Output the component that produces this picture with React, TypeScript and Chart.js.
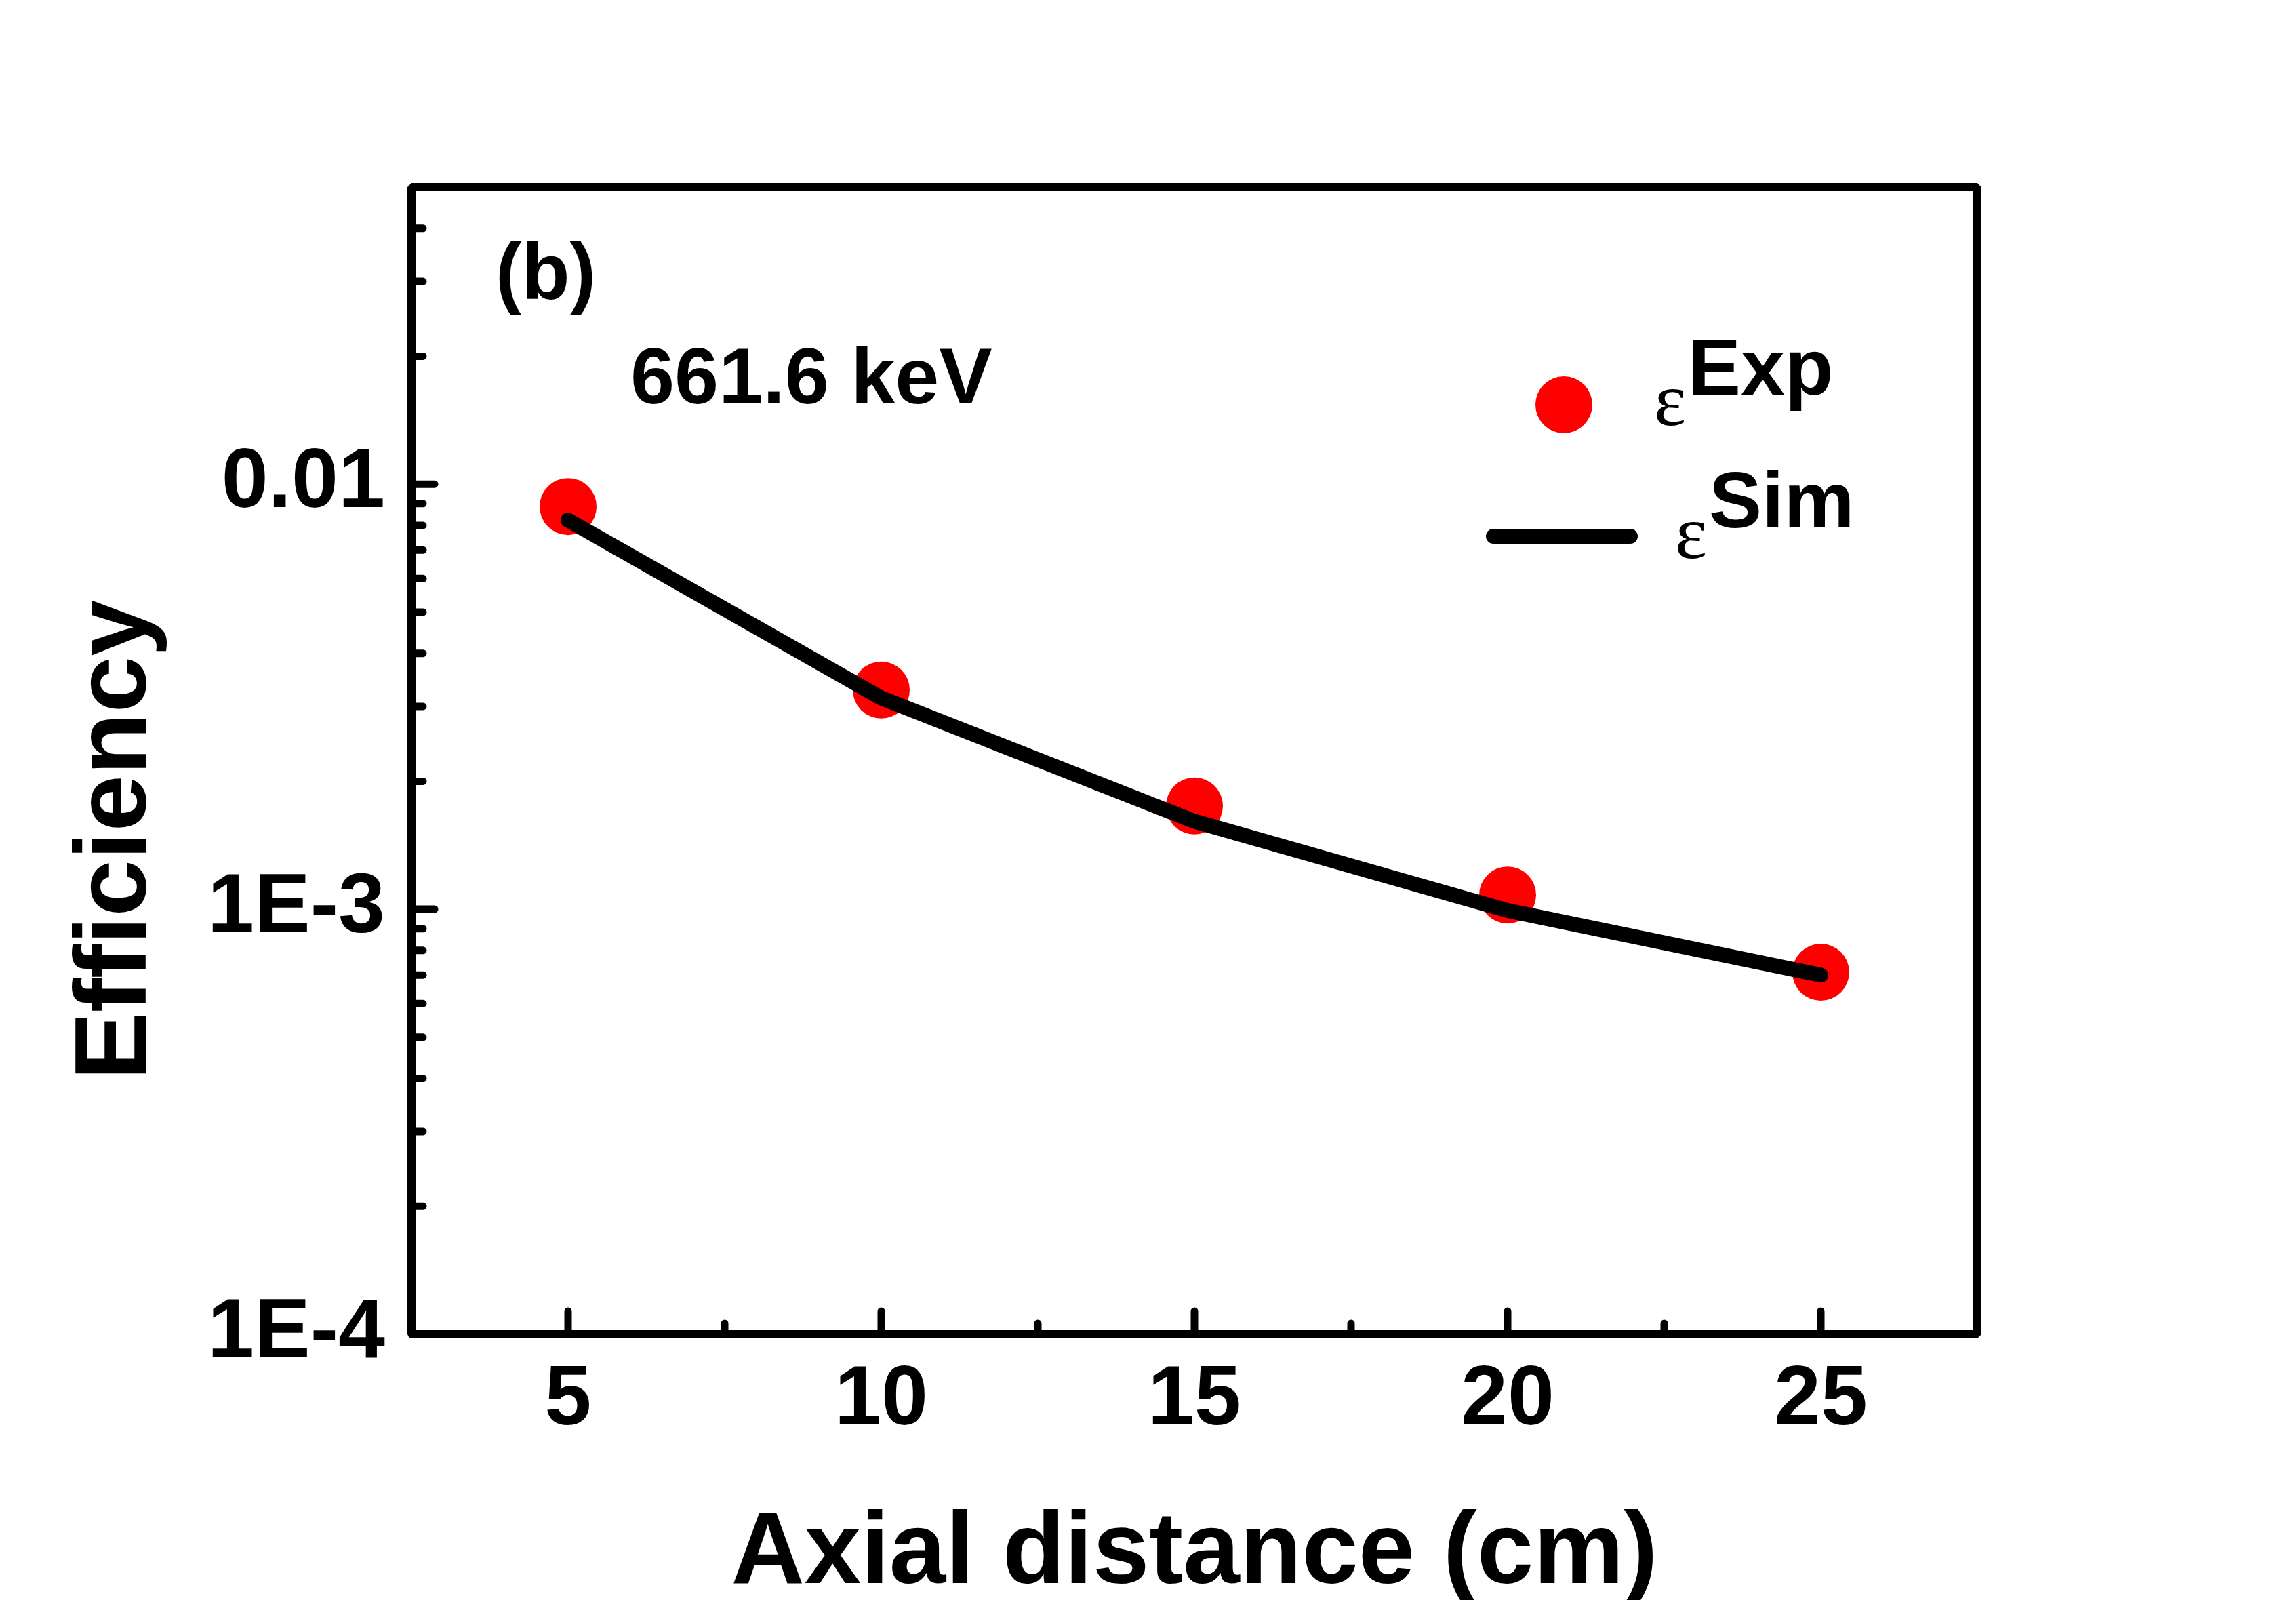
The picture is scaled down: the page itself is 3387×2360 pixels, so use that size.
import { useEffect, useRef } from 'react';
import { Chart, registerables } from 'chart.js';

Chart.register(...registerables);

// axial distance (cm)
const distances = [5, 10, 15, 20, 25];
// measured efficiency
const effExp = [0.00886, 0.00328, 0.00175, 0.00108, 0.000711];
// simulated efficiency
const effSim = [0.00823, 0.00314, 0.00161, 0.000993, 0.0007];

const xTickValues = [5, 10, 15, 20, 25];
const xMinorTicks = [7.5, 12.5, 17.5, 22.5];
const yTickValues = [1e-4, 1e-3, 1e-2];
const yTickLabels = ['1E-4', '1E-3', '0.01'];
const yMinorTicks = [
  2e-4, 3e-4, 4e-4, 5e-4, 6e-4, 7e-4, 8e-4, 9e-4,
  2e-3, 3e-3, 4e-3, 5e-3, 6e-3, 7e-3, 8e-3, 9e-3,
  0.02, 0.03, 0.04,
];

const SANS = "'Liberation Sans', Arial, sans-serif";
const SERIF = "'Liberation Serif', 'Times New Roman', serif";

// frame, inward ticks and all the loose text
const framePlugin = {
  id: 'frame',
  afterDraw(chart: any) {
    const { ctx, chartArea: a, scales } = chart;
    const xs = scales.x;
    const ys = scales.y;
    ctx.save();
    ctx.strokeStyle = '#000';
    ctx.fillStyle = '#000';

    const tick = (x1: number, y1: number, x2: number, y2: number) => {
      ctx.beginPath();
      ctx.moveTo(x1, y1);
      ctx.lineTo(x2, y2);
      ctx.stroke();
    };

    ctx.lineWidth = 11;
    ctx.lineCap = 'round';
    xTickValues.forEach((v) => {
      const px = xs.getPixelForValue(v);
      tick(px, a.bottom, px, a.bottom - 34);
    });
    xMinorTicks.forEach((v) => {
      const px = xs.getPixelForValue(v);
      tick(px, a.bottom, px, a.bottom - 16);
    });
    yTickValues.forEach((v) => {
      const py = ys.getPixelForValue(v);
      tick(a.left, py, a.left + 34, py);
    });
    yMinorTicks.forEach((v) => {
      const py = ys.getPixelForValue(v);
      tick(a.left, py, a.left + 17, py);
    });

    // box
    ctx.lineWidth = 12;
    ctx.lineCap = 'butt';
    ctx.lineJoin = 'bevel';
    ctx.strokeRect(a.left, a.top, a.right - a.left, a.bottom - a.top);

    // axis titles
    ctx.font = `bold 150px ${SANS}`;
    ctx.textAlign = 'center';
    ctx.textBaseline = 'alphabetic';
    ctx.fillText('Axial distance (cm)', (a.left + a.right) / 2, 2335);
    ctx.save();
    ctx.translate(215, 1239);
    ctx.rotate(-Math.PI / 2);
    ctx.fillText('Efficiency', 0, 0);
    ctx.restore();

    // annotations
    ctx.textAlign = 'left';
    ctx.font = `bold 116px ${SANS}`;
    ctx.fillText('(b)', 731, 441);
    ctx.font = `bold 117px ${SANS}`;
    ctx.fillText('661.6 keV', 930, 595);

    // legend
    ctx.fillStyle = '#FF0000';
    ctx.beginPath();
    ctx.arc(2307, 597, 42, 0, Math.PI * 2);
    ctx.fill();
    ctx.strokeStyle = '#000';
    ctx.lineWidth = 22;
    ctx.lineCap = 'round';
    tick(2203, 791, 2405, 791);

    ctx.fillStyle = '#000';
    ctx.font = `112px ${SERIF}`;
    ctx.fillText('ε', 2440, 627);
    ctx.fillText('ε', 2471, 823);
    ctx.font = `bold 117px ${SANS}`;
    ctx.fillText('Exp', 2490, 582);
    ctx.fillText('Sim', 2521, 778);

    ctx.restore();
  },
};

const EfficiencyChart = () => {
  const canvasRef = useRef<HTMLCanvasElement>(null);

  useEffect(() => {
    if (!canvasRef.current) return;

    const chart = new Chart(canvasRef.current, {
      type: 'scatter',
      data: {
        datasets: [
          {
            label: 'Sim',
            data: distances.map((d, i) => ({ x: d, y: effSim[i] })),
            showLine: true,
            borderColor: '#000',
            borderWidth: 22,
            borderCapStyle: 'round',
            borderJoinStyle: 'round',
            pointRadius: 0,
            order: 0,
          },
          {
            label: 'Exp',
            data: distances.map((d, i) => ({ x: d, y: effExp[i] })),
            showLine: false,
            pointRadius: 42,
            pointBackgroundColor: '#FF0000',
            pointBorderWidth: 0,
            order: 1,
          },
        ],
      },
      options: {
        responsive: true,
        maintainAspectRatio: false,
        animation: false,
        events: [],
        layout: {
          padding: { left: 0, top: 276, right: 470, bottom: 0 },
        },
        plugins: {
          legend: { display: false },
          tooltip: { enabled: false },
        },
        scales: {
          x: {
            type: 'linear',
            min: 2.5,
            max: 27.5,
            grid: { display: false, drawTicks: false },
            border: { display: false },
            ticks: {
              autoSkip: false,
              maxRotation: 0,
              padding: 24,
              color: '#000',
              font: { family: SANS, size: 124, weight: 'bold' },
            },
            afterBuildTicks: (axis: any) => {
              axis.ticks = xTickValues.map((value) => ({ value }));
            },
            afterFit: (axis: any) => {
              axis.height = 392;
            },
          },
          y: {
            type: 'logarithmic',
            min: 1e-4,
            max: 0.05,
            grid: { display: false, drawTicks: false },
            border: { display: false },
            ticks: {
              autoSkip: false,
              padding: 39,
              color: '#000',
              font: { family: SANS, size: 124, weight: 'bold' },
              callback: (_value: any, index: number) => yTickLabels[index],
            },
            afterBuildTicks: (axis: any) => {
              axis.ticks = yTickValues.map((value) => ({ value }));
            },
            afterFit: (axis: any) => {
              axis.width = 607;
            },
          },
        },
      } as any,
      plugins: [framePlugin],
    });

    return () => {
      chart.destroy();
    };
  }, []);

  return (
    <div
      style={{
        position: 'fixed',
        left: 0,
        top: 0,
        width: 3387,
        height: 2360,
        background: '#fff',
      }}
    >
      <canvas ref={canvasRef} />
    </div>
  );
};

export default function App() {
  return <EfficiencyChart />;
}
